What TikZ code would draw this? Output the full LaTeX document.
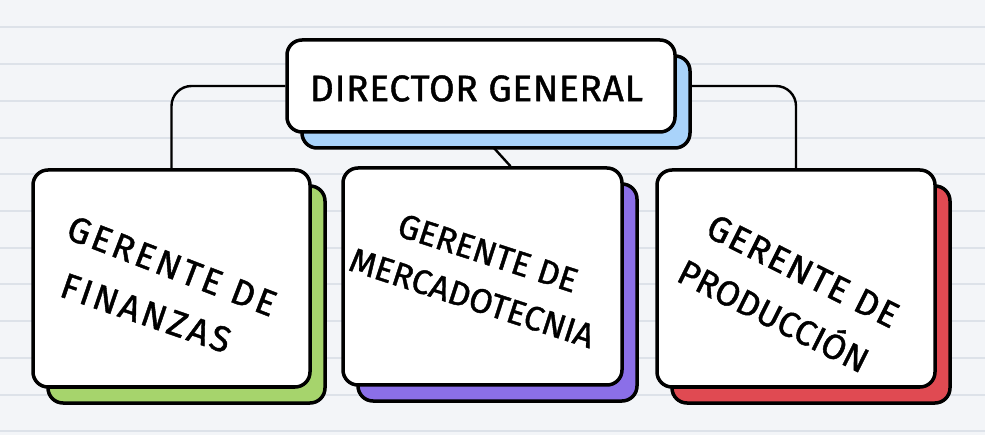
\documentclass[tikz,border=0pt]{standalone}
\usepackage{fontspec}
\newfontfamily\handwide{Fira Sans}[FakeBold=1.2, LetterSpace=8]
\newfontfamily\handmid{Fira Sans}[FakeBold=1.2, LetterSpace=4]
\newfontfamily\handtight{Fira Sans}[FakeBold=1.2]
\newfontfamily\handtop{Fira Sans}[FakeBold=1.2, LetterSpace=2]
\usetikzlibrary{shadows}
\pgfdeclarelayer{paperlayer}
\pgfdeclarelayer{connlayer}
\pgfsetlayers{paperlayer,connlayer,main}
\definecolor{paper}{HTML}{F3F5F8}
\definecolor{rule}{HTML}{DDE2E9}
\definecolor{shblue}{HTML}{A9D3FA}
\definecolor{shgreen}{HTML}{A6D46C}
\definecolor{shpurple}{HTML}{8B6FE8}
\definecolor{shred}{HTML}{E04A52}
\tikzset{
  box/.style={draw=black, line width=3.5pt, fill=white, rounded corners=15pt, inner sep=0pt},
  shadowed/.style={drop shadow={shadow xshift=15pt, shadow yshift=-16pt, fill=#1, draw=black, line width=3.5pt, opacity=1}},
  conn/.style={draw=black, line width=2.4pt},
  lbl/.style={inner sep=0pt, text=black},
}
\begin{document}
\begin{tikzpicture}[x=1pt, y=-1pt]
\useasboundingbox (0,0) rectangle (985,435);
\begin{pgfonlayer}{paperlayer}
\fill[paper] (0,0) rectangle (985,435);
\foreach \k in {0,...,11} {
  \draw[rule, line width=2pt] (0,{27.5+36.7*\k}) -- (985,{27.5+36.7*\k});
}
\end{pgfonlayer}
% boxes
\node[box, shadowed=shblue, minimum width=388pt, minimum height=92pt] (dg) at (481,86) {};
\node[box, shadowed=shgreen, minimum width=277pt, minimum height=217pt] (fin) at (171.5,278.5) {};
\node[box, shadowed=shpurple, minimum width=279pt, minimum height=217pt] (mec) at (482.5,276.5) {};
\node[box, shadowed=shred, minimum width=278pt, minimum height=217pt] (prod) at (796,278.5) {};
% connectors behind boxes
\begin{pgfonlayer}{connlayer}
\draw[conn, rounded corners=20pt] (dg.west) -| (fin.north);
\draw[conn, rounded corners=20pt] (dg.east) -| (prod.north);
\coordinate (mectop) at ([xshift=28pt]mec.north);
\draw[conn] (dg.south) -- (mectop);
\end{pgfonlayer}
% labels
\node[lbl, font=\handtop\fontsize{37}{42}\selectfont] (dgt) at (476.5,88.5) {DIRECTOR GENERAL};
\node[lbl, font=\handwide\fontsize{36}{42}\selectfont, rotate=-21] (fin1) at (172,266) {GERENTE DE};
\node[lbl, font=\handwide\fontsize{36}{42}\selectfont, rotate=-19] (fin2) at (146,313) {FINANZAS};
\node[lbl, font=\handtight\fontsize{34}{40}\selectfont, rotate=-18] (mec1) at (488,253) {GERENTE DE};
\node[lbl, font=\handtight\fontsize{34}{40}\selectfont, rotate=-18] (mec2) at (472,298) {MERCADOTECNIA};
\node[lbl, font=\handmid\fontsize{36}{42}\selectfont, rotate=-26.6] (prod1) at (803,271) {GERENTE DE};
\node[lbl, font=\handtight\fontsize{35}{40}\selectfont, rotate=-26.7] (prod2) at (775,313) {PRODUCCIÓN};
\end{tikzpicture}
\end{document}
